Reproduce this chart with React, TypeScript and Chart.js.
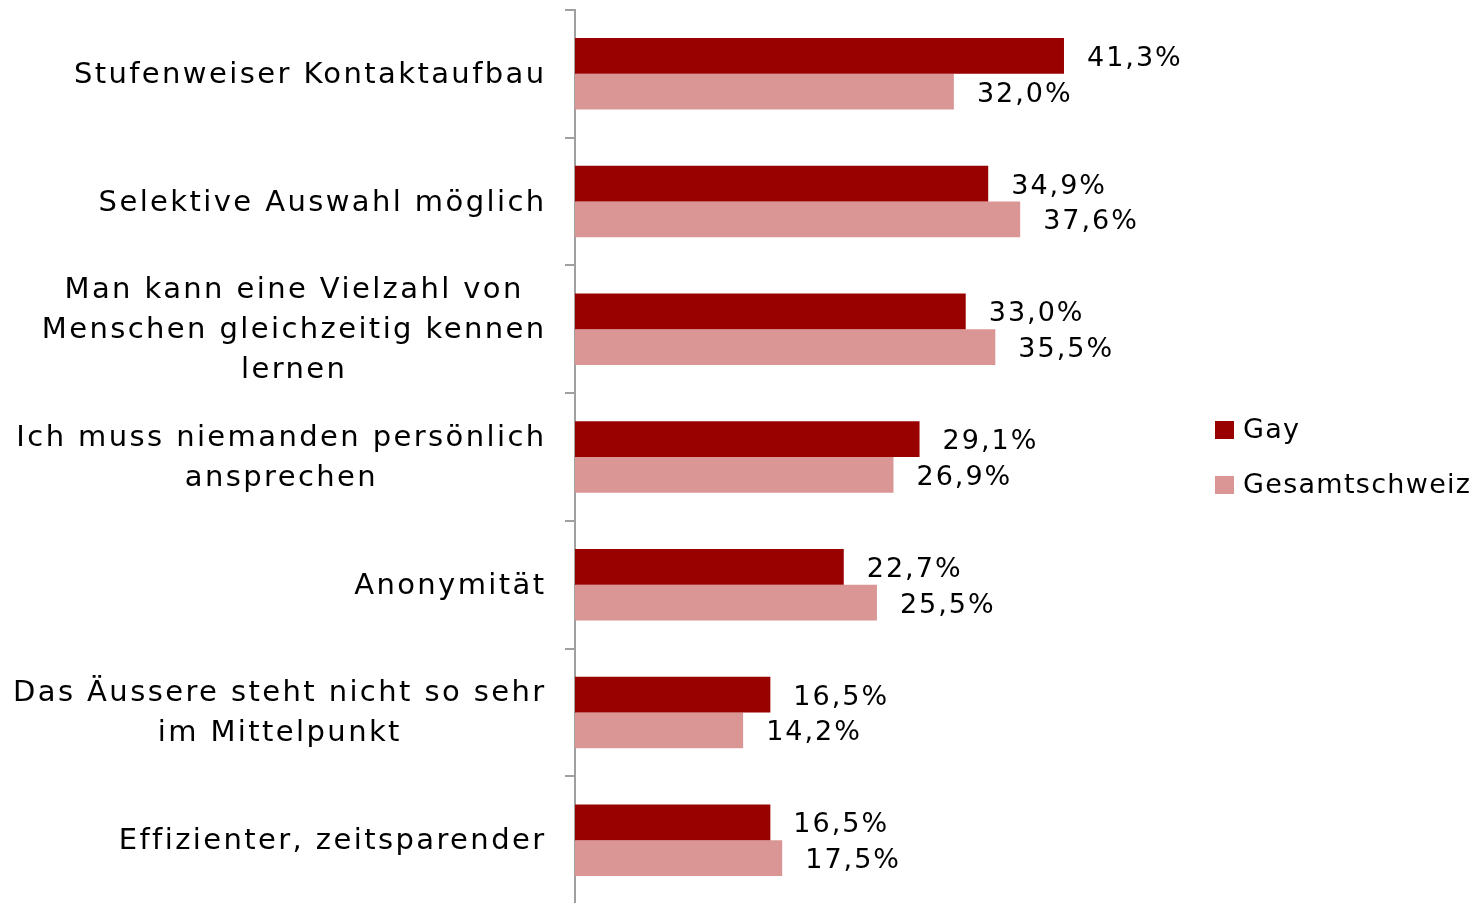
import React, { useEffect, useRef } from "react";
import { Chart, registerables } from "chart.js";

Chart.register(...registerables);

const categories: string[][] = [
  ["Stufenweiser Kontaktaufbau"],
  ["Selektive Auswahl möglich"],
  ["Man kann eine Vielzahl von", "Menschen gleichzeitig kennen", "lernen"],
  ["Ich muss niemanden persönlich", "ansprechen"],
  ["Anonymität"],
  ["Das Äussere steht nicht so sehr", "im Mittelpunkt"],
  ["Effizienter, zeitsparender"],
];
const gayValues = [41.3, 34.9, 33.0, 29.1, 22.7, 16.5, 16.5];
const swissValues = [32.0, 37.6, 35.5, 26.9, 25.5, 14.2, 17.5];
const seriesNames = ["Gay", "Gesamtschweiz"];
const seriesColors = ["#990000", "#D99694"];

const FONT = "'DejaVu Sans', sans-serif";

const fmt = (v: number) => v.toFixed(1).replace(".", ",") + "%";

const customDraw = {
  id: "customDraw",
  afterDatasetsDraw(chart: any) {
    const ctx = chart.ctx as any;
    const yScale = chart.scales.y;
    ctx.save();
    ctx.fillStyle = "#000000";

    // category labels
    ctx.font = `29px ${FONT}`;
    ctx.letterSpacing = "2.4px";
    ctx.textBaseline = "middle";
    const rightEdge = 546.5;
    const lineH = 40;
    (chart.data.labels as string[][]).forEach((lines, i) => {
      const yc = yScale.getPixelForValue(i) + 1.5;
      const widths = lines.map((l) => ctx.measureText(l).width);
      const widest = Math.max(...widths);
      const cx = rightEdge - widest / 2;
      lines.forEach((l, k) => {
        const y = yc - ((lines.length - 1) * lineH) / 2 + k * lineH;
        ctx.textAlign = "center";
        ctx.fillText(l, cx, y);
      });
    });

    // data labels
    ctx.font = `27px ${FONT}`;
    ctx.letterSpacing = "2px";
    ctx.textAlign = "left";
    chart.data.datasets.forEach((ds: any, di: number) => {
      const meta = chart.getDatasetMeta(di);
      meta.data.forEach((bar: any, i: number) => {
        ctx.fillText(fmt(ds.data[i]), bar.x + 23, bar.y + 3);
      });
    });

    // legend
    ctx.font = `27px ${FONT}`;
    ctx.letterSpacing = "1.3px";
    const legendY = [430, 485];
    seriesNames.forEach((name, i) => {
      ctx.fillStyle = seriesColors[i];
      ctx.fillRect(1215, legendY[i] - 9, 19, 18);
      ctx.fillStyle = "#000000";
      ctx.fillText(name, 1243, legendY[i] + 1);
    });
    ctx.restore();
  },
};

export default function App() {
  const ref = useRef<HTMLCanvasElement | null>(null);
  useEffect(() => {
    if (!ref.current) return;
    const chart = new Chart(ref.current, {
      type: "bar",
      data: {
        labels: categories as any,
        datasets: [
          {
            label: seriesNames[0],
            data: gayValues,
            backgroundColor: seriesColors[0],
            categoryPercentage: 0.56,
            barPercentage: 1,
          },
          {
            label: seriesNames[1],
            data: swissValues,
            backgroundColor: seriesColors[1],
            categoryPercentage: 0.56,
            barPercentage: 1,
          },
        ],
      },
      options: {
        indexAxis: "y",
        responsive: false,
        animation: false,
        devicePixelRatio: 1,
        events: [],
        layout: { padding: { top: 10, right: 314, bottom: 0, left: 0 } },
        plugins: {
          legend: { display: false },
          tooltip: { enabled: false },
        },
        scales: {
          x: { display: false, min: 0, max: 50 },
          y: {
            display: true,
            afterFit: (scale: any) => {
              scale.width = 575;
            },
            ticks: { display: false },
            grid: {
              display: true,
              drawOnChartArea: false,
              drawTicks: true,
              tickLength: 10,
              color: "#A0A0A0",
              lineWidth: 2,
              offset: true,
            },
            border: { display: true, color: "#A0A0A0", width: 2 },
          },
        },
      },
      plugins: [customDraw],
    });
    return () => chart.destroy();
  }, []);
  return (
    <div style={{ position: "fixed", left: 0, top: 0, width: 1481, height: 904, background: "#fff" }}>
      <canvas ref={ref} width={1481} height={904} style={{ width: 1481, height: 904, display: "block" }} />
    </div>
  );
}
